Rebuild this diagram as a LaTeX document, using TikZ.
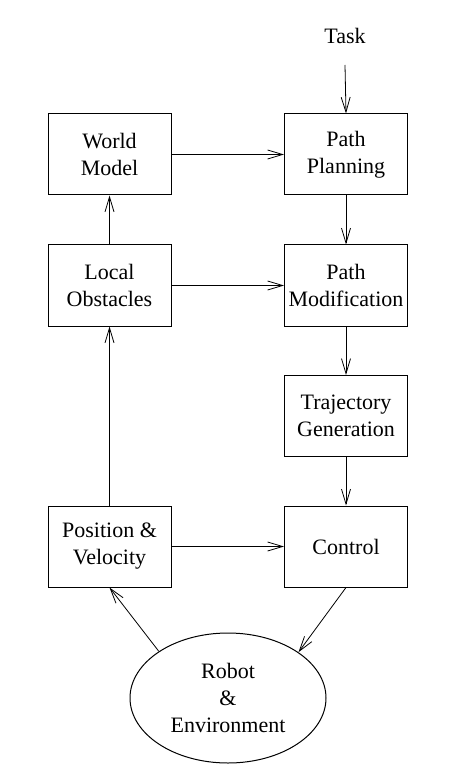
\documentclass[tikz,border=0pt]{standalone}
\usepackage{fontspec}
\setmainfont{Liberation Serif}
\usetikzlibrary{arrows.meta,shapes.geometric}
\begin{document}
\begin{tikzpicture}[x=1pt,y=-1pt,
  every node/.style={font=\fontsize{22}{27}\selectfont},
  box/.style={draw, line width=1pt, minimum width=123pt, minimum height=81pt, inner sep=0pt, align=center},
  arr/.style={line width=0.8pt, -{Straight Barb[length=15pt,width=9pt,line width=0.8pt]}}]
\useasboundingbox (0,0) rectangle (448,775);
\node (task) at (345,36) {Task};
\coordinate (taskstart) at (345,65);
\node[box] (world) at (109.5,154.5) {World\\Model};
\node[box] (plan) at (346,154.5) {Path\\Planning};
\node[box] (local) at (109.5,285.5) {Local\\Obstacles};
\node[box] (mod) at (346,285.5) {Path\\Modification};
\node[box] (traj) at (346,416) {Trajectory\\Generation};
\node[box] (pos) at (109.5,546.5) {Position \&\\Velocity};
\node[box] (ctrl) at (346,546.5) {Control};
\node[draw, line width=1pt, ellipse, minimum width=196pt, minimum height=130pt, inner sep=0pt, align=center] (robot) at (228,698) {Robot\\\&\\Environment};
\draw[arr] (taskstart) -- (plan.north);
\draw[arr] (world) -- (plan);
\draw[arr] (plan) -- (mod);
\draw[arr] (local) -- (mod);
\draw[arr] (local) -- (world);
\draw[arr] (mod) -- (traj);
\draw[arr] (traj) -- (ctrl);
\draw[arr] (pos) -- (local);
\draw[arr] (pos) -- (ctrl);
\draw[arr] (ctrl.south) -- (robot.33.7);
\draw[arr] (robot.146.7) -- (pos.south);
\end{tikzpicture}
\end{document}
